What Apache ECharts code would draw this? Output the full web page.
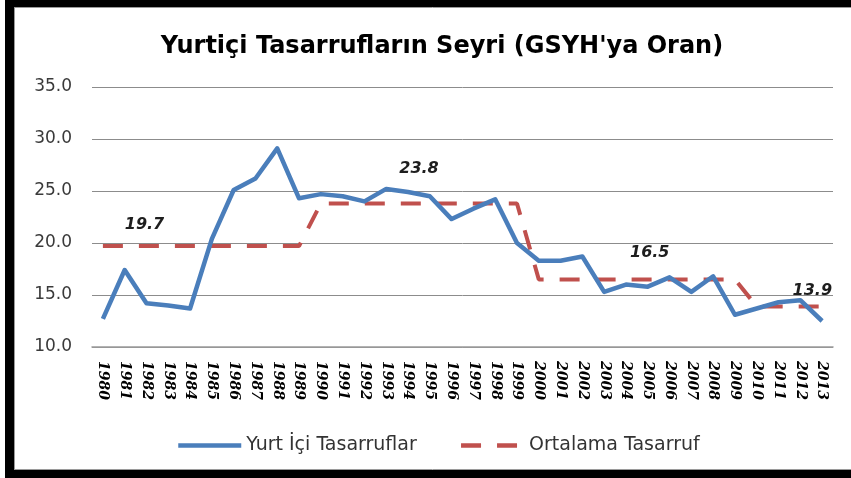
<!DOCTYPE html>
<html><head><meta charset="utf-8">
<script src="https://cdn.jsdelivr.net/npm/echarts@6/dist/echarts.min.js"></script>
<style>html,body{margin:0;padding:0;background:#fff;}#c{width:851px;height:478px;}</style>
</head><body><div id="c"></div>
<script>
const titleText = "Yurtiçi Tasarrufların Seyri (GSYH'ya Oran)";
const seriesNames = ["Yurt İçi Tasarruflar", "Ortalama Tasarruf"];
const years = ["1980","1981","1982","1983","1984","1985","1986","1987","1988","1989",
  "1990","1991","1992","1993","1994","1995","1996","1997","1998","1999",
  "2000","2001","2002","2003","2004","2005","2006","2007","2008","2009",
  "2010","2011","2012","2013"];
const savings = [12.7,17.4,14.2,14.0,13.7,20.4,25.1,26.2,29.1,24.3,
  24.7,24.5,24.0,25.2,24.9,24.5,22.3,23.3,24.2,20.0,
  18.3,18.3,18.7,15.3,16.0,15.8,16.7,15.3,16.8,13.1,
  13.7,14.3,14.5,12.5];
const average = [19.7,19.7,19.7,19.7,19.7,19.7,19.7,19.7,19.7,19.7,
  23.8,23.8,23.8,23.8,23.8,23.8,23.8,23.8,23.8,23.8,
  16.5,16.5,16.5,16.5,16.5,16.5,16.5,16.5,16.5,16.5,
  13.9,13.9,13.9,13.9];
const yTicks = [10, 15, 20, 25, 30, 35];
// which average points carry a value label
const avgLabelIdx = [2, 14, 25, 32];

const labelOffsets = {2: [-2, -21], 14: [11, -35], 25: [2, -27], 32: [12, -16]};

const avgData = average.map((v, i) => {
  if (avgLabelIdx.indexOf(i) < 0) return v;
  return {
    value: v,
    symbol: 'circle',
    symbolSize: 1,
    itemStyle: {color: 'rgba(0,0,0,0)', borderWidth: 0},
    label: {
      show: true, position: 'inside', offset: labelOffsets[i],
      formatter: (p) => p.value.toFixed(1),
      fontFamily: 'DejaVu Sans', fontWeight: 'bold', fontStyle: 'italic',
      fontSize: 16, color: '#1e1e1e'
    }
  };
});

const chart = echarts.init(document.getElementById('c'), null, {renderer: 'canvas'});
chart.setOption({
  animation: false,
  backgroundColor: '#ffffff',
  title: {
    text: titleText, left: 437, textAlign: 'center', top: 30,
    textStyle: {fontFamily: 'DejaVu Sans', fontWeight: 'bold', fontSize: 24, color: '#000'}
  },
  graphic: [
    {type: 'rect', silent: true, shape: {x: 5, y: 0, width: 9, height: 478}, style: {fill: '#000'}},
    {type: 'rect', silent: true, shape: {x: 5, y: 0, width: 846, height: 7}, style: {fill: '#000'}},
    {type: 'rect', silent: true, shape: {x: 5, y: 470, width: 846, height: 8}, style: {fill: '#000'}},
    {type: 'line', silent: true, shape: {x1: 14.5, y1: 7, x2: 14.5, y2: 470}, style: {stroke: '#9a9a9a', lineWidth: 1}},
    {type: 'line', silent: true, shape: {x1: 14, y1: 7.5, x2: 851, y2: 7.5}, style: {stroke: '#9a9a9a', lineWidth: 1}},
    {type: 'line', silent: true, shape: {x1: 14, y1: 469.5, x2: 851, y2: 469.5}, style: {stroke: '#9a9a9a', lineWidth: 1}}
  ],
  legend: {
    data: seriesNames, left: 171, top: 431,
    itemWidth: 63, itemHeight: 20, itemGap: 42,
    itemStyle: {opacity: 0, borderWidth: 0},
    lineStyle: {width: 4.5},
    textStyle: {fontFamily: 'DejaVu Sans', fontSize: 19, color: '#333'}
  },
  grid: {left: 92, right: 18, top: 87, bottom: 131},
  xAxis: {
    type: 'category', data: years, boundaryGap: true,
    axisLine: {show: true, lineStyle: {color: '#9a9a9a', width: 1.5}},
    axisTick: {show: false},
    axisLabel: {
      interval: 0, rotate: -90, margin: 14,
      fontFamily: 'DejaVu Serif', fontWeight: 'bold', fontStyle: 'italic',
      fontSize: 14, color: '#000'
    }
  },
  yAxis: {
    type: 'value', min: 10, max: 35, interval: 5,
    axisLine: {show: false}, axisTick: {show: false},
    splitLine: {lineStyle: {color: '#8c8c8c', width: 1}},
    axisLabel: {
      margin: 20, formatter: (v) => yTicks.indexOf(v) >= 0 ? v.toFixed(1) : '',
      fontFamily: 'DejaVu Sans', fontSize: 17, color: '#3a3a3a'
    }
  },
  series: [
    {
      name: seriesNames[0], type: 'line', data: savings,
      symbol: 'none', showSymbol: false, z: 3,
      lineStyle: {color: '#4a7ebb', width: 4.5, join: 'round'},
      itemStyle: {color: '#4a7ebb'}
    },
    {
      name: seriesNames[1], type: 'line', data: avgData,
      symbol: 'none', showSymbol: true, showAllSymbol: true, z: 2,
      lineStyle: {color: '#c0504d', width: 4, type: [20, 16]},
      itemStyle: {color: '#c0504d'}
    }
  ]
});
</script>
</body></html>
